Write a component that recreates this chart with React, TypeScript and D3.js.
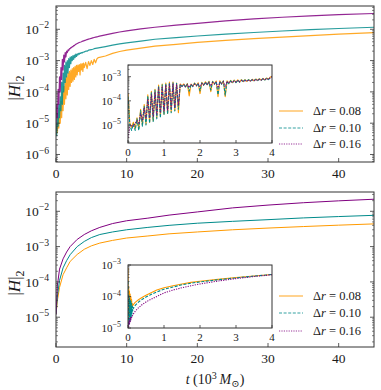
import React from 'react';
import * as d3 from 'd3';

const W = 381;
const H = 390;
const FONT = "'Liberation Serif', 'DejaVu Serif', serif";
const COL_A = '#ff9a00';
const COL_B = '#008b8b';
const COL_C = '#800080';
const LEGEND_LABELS = ['0.08', '0.10', '0.16'];
const X_TICKS = [0, 10, 20, 30, 40];
const INSET_X_TICKS = [0, 1, 2, 3, 4];

// ---------- Top panel, main ----------
const TOP_T = [0, 0.1, 0.2, 0.3, 0.4, 0.5, 0.6, 0.7, 0.8, 0.9, 1.0, 1.1, 1.2, 1.3, 1.4, 1.5, 1.6, 1.7, 1.8, 1.9, 2.0, 2.1, 2.2, 2.3, 2.4, 2.5, 2.6, 2.7, 2.8, 2.9, 3.0, 3.1, 3.2, 3.3, 3.4, 3.5, 3.6, 3.7, 3.8, 3.9, 4.0, 4.2, 4.4, 4.6, 4.8, 5.0, 5.2, 5.4, 5.6, 5.8, 6.0, 7, 8, 9, 10, 12, 14, 17, 20, 24, 28, 32, 36, 40, 45];
const TOP_A = [4e-6, 8e-6, 5e-6, 1.5e-5, 7e-6, 3e-5, 1e-5, 5e-5, 1.5e-5, 1e-4, 2.5e-5, 1.5e-4, 4e-5, 2.5e-4, 6e-5, 3e-4, 8e-5, 4e-4, 1.2e-4, 4.5e-4, 1.5e-4, 5e-4, 2e-4, 5.5e-4, 2.2e-4, 6e-4, 2.5e-4, 6.5e-4, 3e-4, 7e-4, 3.5e-4, 7.2e-4, 4.5e-4, 7.5e-4, 3.5e-4, 7.8e-4, 5e-4, 8e-4, 4.5e-4, 8.3e-4, 6e-4, 8.8e-4, 5.5e-4, 9.3e-4, 7e-4, 1.0e-3, 7.5e-4, 1.1e-3, 8.5e-4, 1.15e-3, 1.25e-3, 1.4e-3, 1.7e-3, 1.95e-3, 2.15e-3, 2.5e-3, 2.9e-3, 3.3e-3, 3.8e-3, 4.4e-3, 5.0e-3, 5.6e-3, 6.3e-3, 7.0e-3, 7.8e-3];
const TOP_B = [1e-5, 4e-6, 2e-5, 8e-6, 4e-5, 1.5e-5, 7e-5, 2.5e-5, 2e-4, 4e-5, 4e-4, 1e-4, 7e-4, 2e-4, 9e-4, 3e-4, 1.0e-3, 4e-4, 1.15e-3, 6e-4, 1.3e-3, 8e-4, 1.35e-3, 1.0e-3, 1.45e-3, 1.1e-3, 1.5e-3, 1.25e-3, 1.6e-3, 1.35e-3, 1.65e-3, 1.5e-3, 1.7e-3, 1.6e-3, 1.75e-3, 1.7e-3, 1.8e-3, 1.75e-3, 1.85e-3, 1.85e-3, 1.9e-3, 2.0e-3, 2.0e-3, 2.15e-3, 2.2e-3, 2.25e-3, 2.3e-3, 2.4e-3, 2.45e-3, 2.5e-3, 2.55e-3, 2.8e-3, 3.1e-3, 3.4e-3, 3.7e-3, 4.2e-3, 4.8e-3, 5.4e-3, 6.1e-3, 7.0e-3, 7.9e-3, 8.8e-3, 9.7e-3, 1.06e-2, 1.16e-2];
const TOP_C = [1.0e-5, 4e-5, 1.5e-5, 1.2e-4, 4e-5, 3e-4, 1e-4, 6e-4, 2.5e-4, 1.1e-3, 5e-4, 1.5e-3, 9e-4, 1.8e-3, 1.3e-3, 2.0e-3, 1.8e-3, 2.2e-3, 2.1e-3, 2.4e-3, 2.4e-3, 2.6e-3, 2.6e-3, 2.8e-3, 2.8e-3, 3.0e-3, 3.0e-3, 3.2e-3, 3.3e-3, 3.4e-3, 3.5e-3, 3.6e-3, 3.7e-3, 3.78e-3, 3.85e-3, 3.92e-3, 4.0e-3, 4.1e-3, 4.2e-3, 4.28e-3, 4.35e-3, 4.5e-3, 4.7e-3, 4.85e-3, 5.0e-3, 5.15e-3, 5.3e-3, 5.45e-3, 5.6e-3, 5.75e-3, 5.9e-3, 6.6e-3, 7.4e-3, 8.2e-3, 8.9e-3, 1.03e-2, 1.16e-2, 1.35e-2, 1.55e-2, 1.85e-2, 2.15e-2, 2.42e-2, 2.7e-2, 2.95e-2, 3.2e-2];

// ---------- Top panel, inset ----------
const TOP_IN_T = [0, 0.05, 0.1, 0.15, 0.2, 0.25, 0.3, 0.35, 0.4, 0.45, 0.5, 0.55, 0.6, 0.65, 0.7, 0.75, 0.8, 0.85, 0.9, 0.95, 1.0, 1.05, 1.1, 1.15, 1.2, 1.25, 1.3, 1.35, 1.4, 1.45, 1.5, 1.55, 1.6, 1.65, 1.7, 1.75, 1.8, 1.85, 1.9, 1.95, 2.0, 2.05, 2.1, 2.15, 2.2, 2.25, 2.3, 2.35, 2.4, 2.45, 2.5, 2.55, 2.6, 2.65, 2.7, 2.75, 2.8, 2.85, 2.9, 2.95, 3.0, 3.05, 3.1, 3.15, 3.2, 3.25, 3.3, 3.35, 3.4, 3.45, 3.5, 3.55, 3.6, 3.65, 3.7, 3.75, 3.8, 3.85, 3.9, 3.95, 4.0];
const TOP_IN_A = [2.0e-4, 1.2e-5, 8e-6, 1.3e-5, 7e-6, 2.0e-5, 7e-6, 4.5e-5, 1.0e-5, 7e-5, 1.1e-5, 1.8e-4, 1.3e-5, 2.5e-4, 1.5e-5, 3.0e-4, 2.0e-5, 4.5e-4, 2.3e-5, 5.0e-4, 2.8e-5, 5.5e-4, 3.0e-5, 6.0e-4, 3.5e-5, 6.0e-4, 4.0e-5, 5.5e-4, 3.2e-5, 5.0e-4, 4.2e-4, 5.0e-4, 3.8e-4, 5.2e-4, 1.6e-4, 5.0e-4, 4.0e-4, 5.5e-4, 4.2e-4, 5.6e-4, 2.0e-4, 5.8e-4, 4.5e-4, 6.2e-4, 4.6e-4, 6.5e-4, 2.4e-4, 6.5e-4, 5.0e-4, 6.6e-4, 1.5e-4, 6.8e-4, 5.0e-4, 6.8e-4, 1.5e-4, 6.8e-4, 5.2e-4, 7.0e-4, 5.6e-4, 7.2e-4, 5.8e-4, 7.4e-4, 6.0e-4, 7.5e-4, 6.2e-4, 7.5e-4, 6.4e-4, 7.6e-4, 6.6e-4, 7.8e-4, 6.8e-4, 8.0e-4, 7.0e-4, 8.2e-4, 7.2e-4, 8.5e-4, 7.4e-4, 8.8e-4, 7.8e-4, 9.5e-4, 1.05e-3];
const TOP_IN_B = [1.5e-4, 1.0e-5, 6e-6, 1.1e-5, 6e-6, 1.8e-5, 6e-6, 4e-5, 9e-6, 6e-5, 1.0e-5, 1.6e-4, 1.2e-5, 2.2e-4, 1.4e-5, 2.8e-4, 1.8e-5, 4.2e-4, 2.0e-5, 4.6e-4, 2.6e-5, 5.2e-4, 2.8e-5, 5.5e-4, 3.2e-5, 5.6e-4, 3.8e-5, 5.3e-4, 4.5e-5, 4.8e-4, 4.0e-4, 4.8e-4, 3.6e-4, 5.0e-4, 2.5e-4, 4.9e-4, 3.9e-4, 5.3e-4, 4.1e-4, 5.4e-4, 2.6e-4, 5.6e-4, 4.4e-4, 6.0e-4, 4.5e-4, 6.2e-4, 2.8e-4, 6.3e-4, 4.9e-4, 6.4e-4, 1.8e-4, 6.5e-4, 4.9e-4, 6.6e-4, 1.7e-4, 6.6e-4, 5.1e-4, 6.8e-4, 5.5e-4, 7.0e-4, 5.7e-4, 7.2e-4, 5.9e-4, 7.3e-4, 6.1e-4, 7.4e-4, 6.3e-4, 7.5e-4, 6.5e-4, 7.6e-4, 6.7e-4, 7.8e-4, 6.9e-4, 8.0e-4, 7.1e-4, 8.3e-4, 7.3e-4, 8.6e-4, 7.6e-4, 9.2e-4, 1.0e-3];
const TOP_IN_C = [3e-6, 8e-6, 1.0e-5, 9e-6, 1.2e-5, 1.5e-5, 1.1e-5, 3e-5, 1.6e-5, 5e-5, 1.8e-5, 1.2e-4, 2e-5, 1.8e-4, 2.2e-5, 2.3e-4, 2.8e-5, 3.5e-4, 3.2e-5, 4.0e-4, 3.8e-5, 4.5e-4, 4e-5, 4.8e-4, 5e-5, 5e-4, 5.5e-5, 4.8e-4, 7e-5, 4.6e-4, 4.0e-4, 4.6e-4, 3.9e-4, 4.7e-4, 3.6e-4, 4.7e-4, 4.1e-4, 4.9e-4, 4.3e-4, 5.0e-4, 3.8e-4, 5.2e-4, 4.6e-4, 5.5e-4, 4.8e-4, 5.7e-4, 4.2e-4, 5.8e-4, 5.1e-4, 6.0e-4, 3.5e-4, 6.0e-4, 5.2e-4, 6.2e-4, 3.8e-4, 6.3e-4, 5.5e-4, 6.4e-4, 5.8e-4, 6.6e-4, 6.0e-4, 6.8e-4, 6.2e-4, 7.0e-4, 6.4e-4, 7.1e-4, 6.5e-4, 7.2e-4, 6.7e-4, 7.3e-4, 6.9e-4, 7.5e-4, 7.1e-4, 7.7e-4, 7.3e-4, 8.0e-4, 7.5e-4, 8.3e-4, 7.8e-4, 8.8e-4, 1.0e-3];

// ---------- Bottom panel, main ----------
const BOT_T = [0, 0.2, 0.5, 1, 1.5, 2, 3, 4, 5, 6.2, 8, 10, 13, 16, 20, 25, 30, 35, 40, 45];
const BOT_A = [1.2e-5, 3e-5, 7e-5, 1.6e-4, 2.5e-4, 3.8e-4, 6e-4, 8.4e-4, 1.05e-3, 1.26e-3, 1.5e-3, 1.75e-3, 2.0e-3, 2.3e-3, 2.6e-3, 3.0e-3, 3.35e-3, 3.7e-3, 4.05e-3, 4.4e-3];
const BOT_B = [1.2e-5, 4e-5, 1.1e-4, 2.5e-4, 4e-4, 5.9e-4, 1.0e-3, 1.4e-3, 1.8e-3, 2.2e-3, 2.6e-3, 3.0e-3, 3.5e-3, 4.0e-3, 4.6e-3, 5.2e-3, 5.8e-3, 6.5e-3, 7.1e-3, 7.7e-3];
const BOT_C = [1.2e-5, 8e-5, 2.3e-4, 4.5e-4, 7e-4, 1.0e-3, 1.6e-3, 2.2e-3, 2.8e-3, 3.5e-3, 4.5e-3, 5.4e-3, 6.4e-3, 7.8e-3, 9.6e-3, 1.25e-2, 1.5e-2, 1.75e-2, 1.98e-2, 2.2e-2];

// ---------- Bottom panel, inset ----------
const BOT_IN_T = [0, 0.01, 0.02, 0.03, 0.04, 0.05, 0.06, 0.07, 0.08, 0.09, 0.1, 0.11, 0.12, 0.13, 0.14, 0.15, 0.2, 0.3, 0.4, 0.5, 0.6, 0.8, 1.0, 1.25, 1.5, 1.75, 2.0, 2.5, 3.0, 3.5, 4.0];
const BOT_IN_A = [8e-4, 2e-5, 2e-4, 2.5e-5, 1.5e-4, 3e-5, 1.2e-4, 3.5e-5, 1e-4, 4e-5, 8e-5, 4.5e-5, 6e-5, 5e-5, 5.5e-5, 5.5e-5, 6.5e-5, 8e-5, 9.5e-5, 1.1e-4, 1.25e-4, 1.6e-4, 1.9e-4, 2.2e-4, 2.5e-4, 2.8e-4, 3.05e-4, 3.5e-4, 4.0e-4, 4.5e-4, 5.0e-4];
const BOT_IN_B = [3e-4, 1.2e-5, 1.2e-4, 1.3e-5, 9e-5, 1.5e-5, 8e-5, 1.8e-5, 7e-5, 2.2e-5, 6e-5, 2.8e-5, 5e-5, 3.5e-5, 4.5e-5, 4.2e-5, 5.2e-5, 6.8e-5, 8.2e-5, 9.6e-5, 1.1e-4, 1.4e-4, 1.7e-4, 2.0e-4, 2.35e-4, 2.65e-4, 2.9e-4, 3.4e-4, 3.9e-4, 4.45e-4, 5.0e-4];
const BOT_IN_C = [1e-5, 1.5e-5, 1.1e-5, 1.8e-5, 1.3e-5, 2e-5, 1.5e-5, 2.2e-5, 1.8e-5, 2.3e-5, 2.1e-5, 2.4e-5, 2.4e-5, 2.6e-5, 2.7e-5, 2.8e-5, 3.4e-5, 4.5e-5, 5.6e-5, 6.7e-5, 7.8e-5, 1.0e-4, 1.3e-4, 1.6e-4, 1.9e-4, 2.2e-4, 2.5e-4, 3.1e-4, 3.7e-4, 4.3e-4, 4.9e-4];

type Series = { t: number[]; v: number[]; color: string; dash?: string; width: number; opacity?: number };

const AXIS_COL = '#333';
const TXT = '#1a1a1a';

function logTicks(dom: [number, number]) {
  const lo = Math.log10(dom[0]);
  const hi = Math.log10(dom[1]);
  const majors: number[] = [];
  const minors: number[] = [];
  for (let e = Math.floor(lo); e <= Math.ceil(hi); e++) {
    const v = Math.pow(10, e);
    if (v >= dom[0] * 0.999 && v <= dom[1] * 1.001) majors.push(e);
    for (let m = 2; m <= 9; m++) {
      const mv = m * v;
      if (mv >= dom[0] && mv <= dom[1]) minors.push(mv);
    }
  }
  return { majors, minors };
}

function Pow10({ x, y, e, fs }: { x: number; y: number; e: number; fs: number }) {
  return (
    <text x={x} y={y} textAnchor="end" fontSize={fs} style={{ fontFamily: FONT }} fill={TXT}>
      10
      <tspan dy={-fs * 0.42} fontSize={fs * 0.72}>{'\u2212' + String(-e)}</tspan>
    </text>
  );
}

function Lines({ series, x, y, clipId }: { series: Series[]; x: any; y: any; clipId: string }) {
  return (
    <g clipPath={`url(#${clipId})`}>
      {series.map((s, i) => {
        const gen = d3
          .line<number>()
          .x((_, k) => x(s.t[k]))
          .y((d) => y(d));
        return (
          <path
            key={i}
            d={gen(s.v) || ''}
            fill="none"
            stroke={s.color}
            strokeWidth={s.width}
            strokeDasharray={s.dash}
            strokeOpacity={s.opacity ?? 1}
            strokeLinejoin="round"
          />
        );
      })}
    </g>
  );
}

function Frame({
  x0, x1, y0, y1, yDom, xDom, xTicks, fs, labelGap, xLabelOffset, clipId, series, rightTicks, major, minor,
}: {
  x0: number; x1: number; y0: number; y1: number; yDom: [number, number]; xDom: [number, number]; xTicks: number[];
  fs: number; labelGap: number; xLabelOffset: number; clipId: string; series: Series[]; rightTicks: boolean; major: number; minor: number;
}) {
  const x = d3.scaleLinear().domain(xDom).range([x0, x1]);
  const y = d3.scaleLog().domain(yDom).range([y1, y0]);
  const { majors, minors } = logTicks(yDom);
  return (
    <g>
      <defs>
        <clipPath id={clipId}>
          <rect x={x0} y={y0} width={x1 - x0} height={y1 - y0} />
        </clipPath>
      </defs>
      <rect x={x0} y={y0} width={x1 - x0} height={y1 - y0} fill="#fff" />
      <Lines series={series} x={x} y={y} clipId={clipId} />
      {majors.map((e) => {
        const yy = y(Math.pow(10, e));
        return (
          <g key={'M' + e}>
            <line x1={x0} x2={x0 + major} y1={yy} y2={yy} stroke={AXIS_COL} strokeWidth={0.8} />
            {rightTicks && <line x1={x1} x2={x1 - major} y1={yy} y2={yy} stroke={AXIS_COL} strokeWidth={0.8} />}
            <Pow10 x={x0 - labelGap} y={yy + fs * 0.35} e={e} fs={fs} />
          </g>
        );
      })}
      {minors.map((v, i) => {
        const yy = y(v);
        return (
          <g key={'m' + i}>
            <line x1={x0} x2={x0 + minor} y1={yy} y2={yy} stroke={AXIS_COL} strokeWidth={0.6} />
            {rightTicks && <line x1={x1} x2={x1 - minor} y1={yy} y2={yy} stroke={AXIS_COL} strokeWidth={0.6} />}
          </g>
        );
      })}
      {xTicks.map((t) => {
        const xx = x(t);
        return (
          <g key={'x' + t}>
            <line x1={xx} x2={xx} y1={y1} y2={y1 - major} stroke={AXIS_COL} strokeWidth={0.8} />
            <text x={xx} y={y1 + xLabelOffset} textAnchor="middle" fontSize={fs} style={{ fontFamily: FONT }} fill={TXT}>
              {t}
            </text>
          </g>
        );
      })}
      <rect x={x0} y={y0} width={x1 - x0} height={y1 - y0} fill="none" stroke={AXIS_COL} strokeWidth={1} />
    </g>
  );
}

function Legend({ x, ys }: { x: number; ys: number[] }) {
  const styles = [
    { c: COL_A, d: undefined },
    { c: COL_B, d: '3,1.6' },
    { c: COL_C, d: '1.2,1.2' },
  ];
  return (
    <g>
      {ys.map((yy, i) => (
        <g key={i}>
          <line x1={x} x2={x + 24} y1={yy} y2={yy} stroke={styles[i].c} strokeWidth={1.1} strokeDasharray={styles[i].d} strokeOpacity={0.8} />
          <text x={x + 34} y={yy + 4} fontSize={12.5} style={{ fontFamily: FONT }} fill={TXT}>
            {'\u0394'}
            <tspan fontStyle="italic">r</tspan>
            {' = ' + LEGEND_LABELS[i]}
          </text>
        </g>
      ))}
    </g>
  );
}

function YLabel({ x, y }: { x: number; y: number }) {
  return (
    <text transform={`translate(${x},${y}) rotate(-90)`} textAnchor="middle" fontSize={17} style={{ fontFamily: FONT }} fill={TXT}>
      |<tspan fontStyle="italic">H</tspan>|<tspan dy={4} fontSize={12}>2</tspan>
    </text>
  );
}

export default function App() {
  const topMain: Series[] = [
    { t: TOP_T, v: TOP_A, color: COL_A, width: 1.2, opacity: 0.85 },
    { t: TOP_T, v: TOP_B, color: COL_B, width: 1.2, opacity: 0.85 },
    { t: TOP_T, v: TOP_C, color: COL_C, width: 1.2, opacity: 0.85 },
  ];
  const topInset: Series[] = [
    { t: TOP_IN_T, v: TOP_IN_A, color: COL_A, width: 1.1 },
    { t: TOP_IN_T, v: TOP_IN_B, color: COL_B, width: 1.1, dash: '3,1.5' },
    { t: TOP_IN_T, v: TOP_IN_C, color: COL_C, width: 1.1, dash: '1.2,1.2' },
  ];
  const botMain: Series[] = [
    { t: BOT_T, v: BOT_A, color: COL_A, width: 1 },
    { t: BOT_T, v: BOT_B, color: COL_B, width: 1 },
    { t: BOT_T, v: BOT_C, color: COL_C, width: 1 },
  ];
  const botInset: Series[] = [
    { t: BOT_IN_T, v: BOT_IN_A, color: COL_A, width: 1.1 },
    { t: BOT_IN_T, v: BOT_IN_B, color: COL_B, width: 1.1, dash: '3,1.5' },
    { t: BOT_IN_T, v: BOT_IN_C, color: COL_C, width: 1.1, dash: '1.2,1.2' },
  ];
  return (
    <svg width={W} height={H} style={{ position: 'absolute', left: 0, top: 0, background: '#fff', fontFamily: FONT }}>
      <rect x={0} y={0} width={W} height={H} fill="#fff" />
      <Frame x0={56} x1={374} y0={6} y1={162} yDom={[Math.pow(10, -6.24), Math.pow(10, -1.256)]} xDom={[0, 45]} xTicks={X_TICKS}
        fs={13.5} labelGap={7} xLabelOffset={15.5} clipId="c1" series={topMain} rightTicks={true} major={4} minor={2} />
      <YLabel x={20} y={88} />
      <Frame x0={128} x1={272} y0={65} y1={143} yDom={[Math.pow(10, -5.745), Math.pow(10, -2.516)]} xDom={[0, 4]} xTicks={INSET_X_TICKS}
        fs={11} labelGap={7} xLabelOffset={13} clipId="c2" series={topInset} rightTicks={false} major={3} minor={1.5} />
      <Legend x={279} ys={[111, 128, 144]} />

      <Frame x0={56} x1={374} y0={192} y1={347} yDom={[Math.pow(10, -5.844), Math.pow(10, -1.453)]} xDom={[0, 45]} xTicks={X_TICKS}
        fs={13.5} labelGap={7} xLabelOffset={15.5} clipId="c3" series={botMain} rightTicks={true} major={4} minor={2} />
      <YLabel x={20} y={283} />
      <Frame x0={128} x1={272} y0={265} y1={328} yDom={[1e-5, 1e-3]} xDom={[0, 4]} xTicks={INSET_X_TICKS}
        fs={11} labelGap={7} xLabelOffset={13} clipId="c4" series={botInset} rightTicks={false} major={3} minor={1.5} />
      <Legend x={279} ys={[296, 313, 331]} />

      <text x={215} y={384} textAnchor="middle" fontSize={14} style={{ fontFamily: FONT }} fill={TXT}>
        <tspan fontStyle="italic">t</tspan>
        {' (10'}
        <tspan dy={-5} fontSize={10}>3</tspan>
        <tspan dy={5} fontStyle="italic">{'\u2009M'}</tspan>
        <tspan dy={3} fontSize={10}>{'\u2299'}</tspan>
        <tspan dy={-3}>)</tspan>
      </text>
    </svg>
  );
}
